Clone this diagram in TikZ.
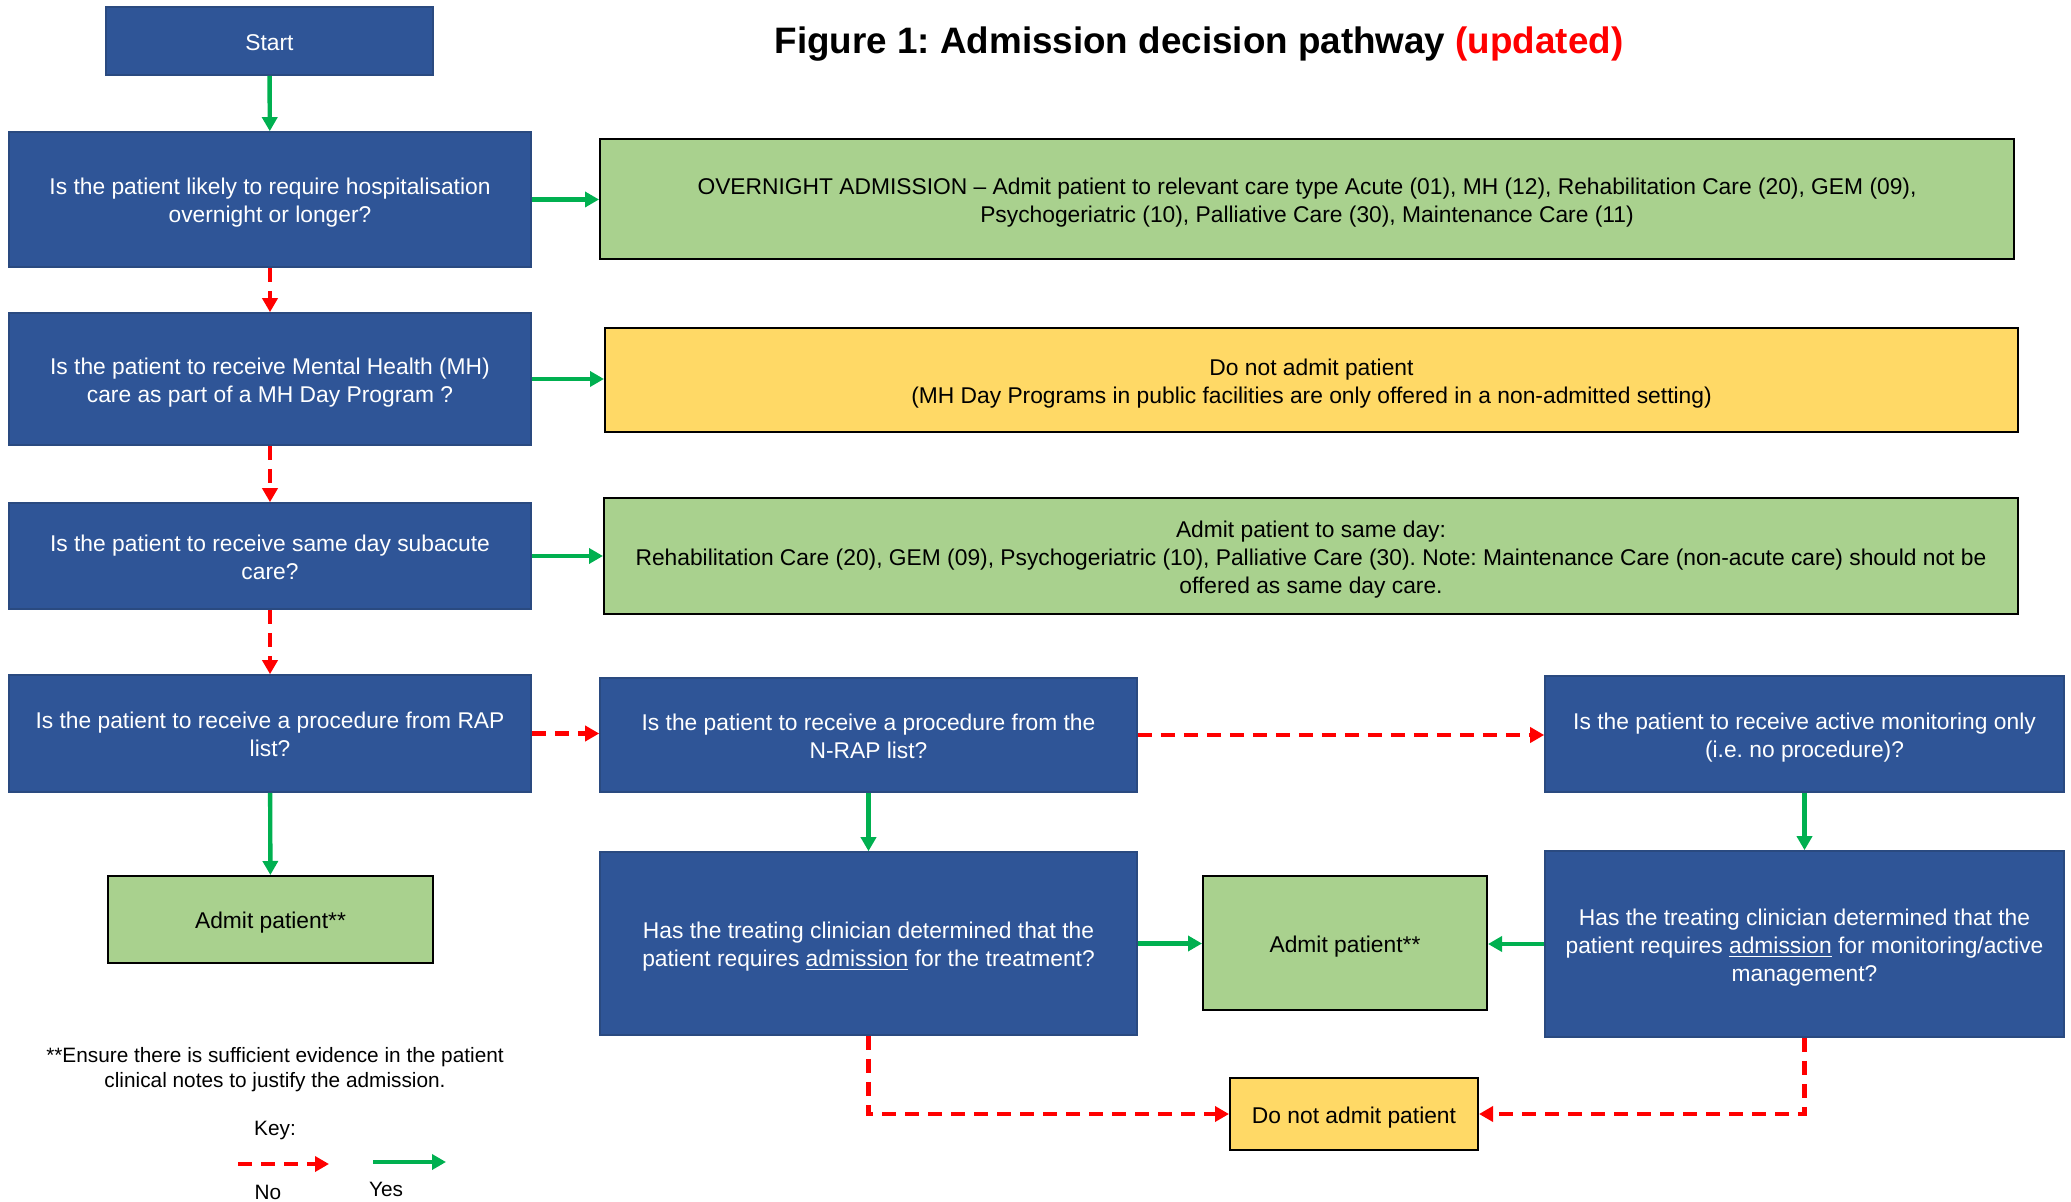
\documentclass[tikz,border=0pt]{standalone}
\usepackage{xcolor}
\usepackage{fontspec}
\setmainfont{Liberation Sans}
\usepackage{tikz}
\usetikzlibrary{arrows.meta}
\usetikzlibrary{positioning}
\frenchspacing
\definecolor{qblue}{HTML}{2F5597}
\definecolor{qedge}{HTML}{2A4A80}
\definecolor{okgreen}{HTML}{A9D18E}
\definecolor{noyellow}{HTML}{FFD966}
\definecolor{yesgreen}{HTML}{00B050}
\definecolor{nored}{HTML}{FF0000}
\newcommand{\boxfont}{\fontsize{11.4}{13.9}\selectfont}
\newcommand{\notefont}{\fontsize{10.4}{12.6}\selectfont}
\tikzstyle{oneline} = [text height=12.3pt, text depth=3pt]
\tikzstyle{twolines} = [text height=26.2pt, text depth=3pt]
\tikzstyle{threelines} = [text height=40.1pt, text depth=3pt]
\tikzstyle{qbox} = [rectangle, draw=qedge, fill=qblue, text=white, line width=0.8pt, align=center, font=\boxfont]
\tikzstyle{okbox} = [rectangle, draw=black, fill=okgreen, line width=1pt, align=center, font=\boxfont]
\tikzstyle{stopbox} = [rectangle, draw=black, fill=noyellow, line width=1pt, align=center, font=\boxfont]
\tikzstyle{yesline} = [-{Triangle[length=7pt, width=7.5pt]}, draw=yesgreen, line width=2.2pt]
\tikzstyle{noline} = [-{Triangle[length=7pt, width=7.5pt]}, draw=nored, line width=2.2pt, dash pattern=on 7pt off 4.5pt]

\begin{document}
\begin{tikzpicture}[x=0.5pt, y=-0.5pt]
\useasboundingbox (0,0) rectangle (2071,1202);
% left column
\node [qbox, oneline, minimum width=163.5pt, minimum height=34pt] (start) at (269.5, 41) {Start};
\node [qbox, twolines, minimum width=261pt, minimum height=67.5pt] (Q1) at (270, 199.5) {Is the patient likely to require hospitalisation\\overnight or longer?};
\node [qbox, twolines, minimum width=261pt, minimum height=66pt] (Q2) at (270, 379) {Is the patient to receive Mental Health (MH)\\care as part of a MH Day Program ?};
\node [qbox, twolines, minimum width=261pt, minimum height=53pt] (Q3) at (270, 556) {Is the patient to receive same day subacute\\care?};
\node [qbox, twolines, minimum width=261pt, minimum height=58.5pt] (RAP) at (270, 733.5) {Is the patient to receive a procedure from RAP\\list?};
\node [okbox, oneline, minimum width=162.5pt, minimum height=43.5pt] (admitL) at (270.5, 919.5) {Admit patient**};
% outcomes
\node [okbox, twolines, minimum width=707pt, minimum height=60pt] (overnight) at (1307, 199) {OVERNIGHT ADMISSION -- Admit patient to relevant care type Acute (01), MH (12), Rehabilitation Care (20), GEM (09),\\Psychogeriatric (10), Palliative Care (30), Maintenance Care (11)};
\node [stopbox, twolines, minimum width=706.5pt, minimum height=52pt] (MH) at (1311.5, 380) {Do not admit patient\\(MH Day Programs in public facilities are only offered in a non-admitted setting)};
\node [okbox, threelines, minimum width=707pt, minimum height=58pt] (sameday) at (1311, 556) {Admit patient to same day:\\Rehabilitation Care (20), GEM (09), Psychogeriatric (10), Palliative Care (30). Note: Maintenance Care (non-acute care) should not be\\offered as same day care.};
% procedure branches
\node [qbox, twolines, minimum width=268.5pt, minimum height=57pt] (NRAP) at (868.5, 735) {Is the patient to receive a procedure from the\\N-RAP list?};
\node [qbox, twolines, minimum width=259.5pt, minimum height=58pt] (monitor) at (1804.5, 734) {Is the patient to receive active monitoring only\\(i.e. no procedure)?};
\node [qbox, twolines, minimum width=268.5pt, minimum height=91.5pt] (clinT) at (868.5, 943.5) {Has the treating clinician determined that the\\patient requires \underline{admission} for the treatment?};
\node [qbox, threelines, minimum width=259.5pt, minimum height=93pt] (clinM) at (1804.5, 944) {Has the treating clinician determined that the\\patient requires \underline{admission} for monitoring/active\\management?};
\node [okbox, oneline, minimum width=142pt, minimum height=67pt] (admitC) at (1345, 943) {Admit patient**};
\node [stopbox, oneline, minimum width=124pt, minimum height=36pt] (notadmit) at (1354, 1114) {Do not admit patient};
% title, note and key
\node [font=\fontsize{18.4}{22}\selectfont\bfseries] (title) at (1199, 44) {Figure 1: Admission decision pathway \textcolor{nored}{(updated)}};
\node [align=center, font=\notefont] (note) at (275, 1070) {**Ensure there is sufficient evidence in the patient\\clinical notes to justify the admission.};
\node [font=\notefont] (key) at (275, 1130) {Key:};
\coordinate (noA) at (238, 1164);
\coordinate (noB) at (329, 1164);
\coordinate (yesA) at (373, 1162);
\coordinate (yesB) at (446, 1162);
\node [font=\notefont] (nolab) at (268, 1192) {No};
\node [font=\notefont] (yeslab) at (386, 1189) {Yes};
\draw [noline] (noA) to (noB);
\draw [yesline] (yesA) to (yesB);
% connectors
\draw [yesline] (start) to (Q1);
\draw [noline] (Q1) to (Q2);
\draw [noline] (Q2) to (Q3);
\draw [noline] (Q3) to (RAP);
\draw [yesline] (Q1.east) to (Q1.east -| overnight.west);
\draw [yesline] (Q2.east) to (Q2.east -| MH.west);
\draw [yesline] (Q3.east) to (Q3.east -| sameday.west);
\draw [yesline] (RAP) to (admitL);
\draw [noline] (RAP.east) to (RAP.east -| NRAP.west);
\draw [noline] (NRAP.east) to (NRAP.east -| monitor.west);
\draw [yesline] (NRAP) to (clinT);
\draw [yesline] (monitor) to (clinM);
\draw [yesline] (clinT.east) to (clinT.east -| admitC.west);
\draw [yesline] (clinM.west) to (clinM.west -| admitC.east);
\draw [noline] (clinT.south) |- (notadmit.west);
\draw [noline] (clinM.south) |- (notadmit.east);
\end{tikzpicture}
\end{document}
